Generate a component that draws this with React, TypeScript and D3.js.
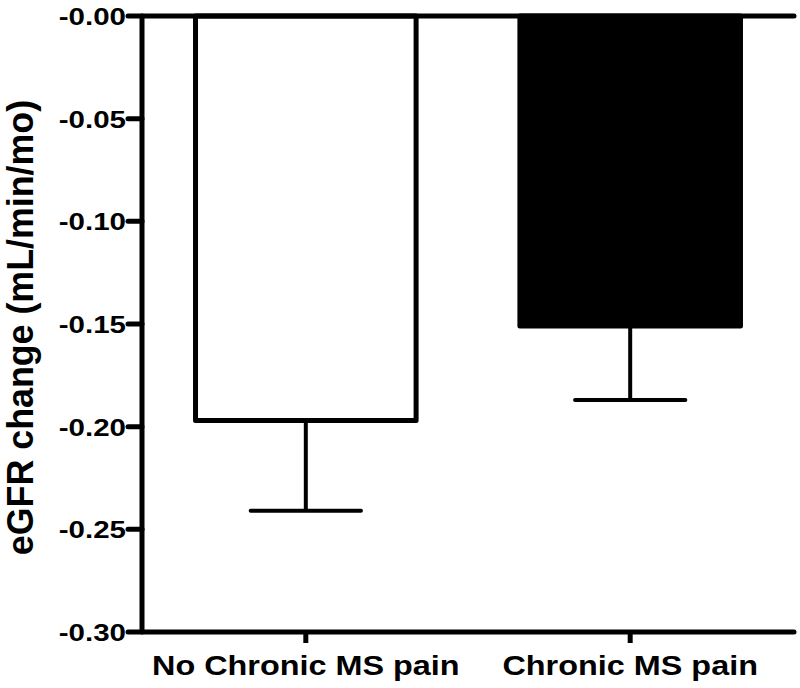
import React, { useRef, useEffect } from 'react';
import * as d3 from 'd3';

// data
const groups = ['No Chronic MS pain', 'Chronic MS pain'];
const means = [-0.197, -0.151];
const errors = [0.044, 0.036];
const fills = ['#ffffff', '#000000'];
const yTicks = [0, -0.05, -0.1, -0.15, -0.2, -0.25, -0.3];
const yTickLabels = ['-0.00', '-0.05', '-0.10', '-0.15', '-0.20', '-0.25', '-0.30'];
const yTitle = 'eGFR change (mL/min/mo)';

const FONT = '"Liberation Sans", Arial, sans-serif';

const App = () => {
  const ref = useRef<SVGSVGElement>(null);

  useEffect(() => {
    if (!ref.current) return;
    const svg = d3.select(ref.current);
    svg.selectAll('*').remove();

    const left = 142;
    const right = 794;
    const top = 16;
    const bottom = 632;

    const y = d3.scaleLinear().domain([0, -0.3]).range([top, bottom]);
    const x = d3
      .scaleBand()
      .domain(groups)
      .range([left, right])
      .paddingInner(0.32)
      .paddingOuter(0.165);

    const g = svg.append('g');

    // bars
    g.selectAll('rect.bar')
      .data(groups)
      .enter()
      .append('rect')
      .attr('class', 'bar')
      .attr('x', (d) => x(d)!)
      .attr('y', y(0))
      .attr('width', x.bandwidth())
      .attr('height', (d, i) => y(means[i]) - y(0))
      .attr('fill', (d, i) => fills[i])
      .attr('stroke', '#000')
      .attr('stroke-width', 5)
      .attr('stroke-linejoin', 'round');

    // error bars (downward only)
    const capW = x.bandwidth() / 2;
    groups.forEach((d, i) => {
      const cx = x(d)! + x.bandwidth() / 2;
      g.append('line')
        .attr('x1', cx)
        .attr('x2', cx)
        .attr('y1', y(means[i]))
        .attr('y2', y(means[i] - errors[i]))
        .attr('stroke', '#000')
        .attr('stroke-width', 4);
      g.append('line')
        .attr('x1', cx - capW / 2)
        .attr('x2', cx + capW / 2)
        .attr('y1', y(means[i] - errors[i]))
        .attr('y2', y(means[i] - errors[i]))
        .attr('stroke', '#000')
        .attr('stroke-width', 4)
        .attr('stroke-linecap', 'round');
    });

    // frame lines: top and bottom
    [0, -0.3].forEach((v) => {
      g.append('line')
        .attr('x1', left)
        .attr('x2', right)
        .attr('y1', y(v))
        .attr('y2', y(v))
        .attr('stroke', '#000')
        .attr('stroke-width', 5)
        .attr('stroke-linecap', 'round');
    });

    // y axis
    g.append('line')
      .attr('x1', left)
      .attr('x2', left)
      .attr('y1', y(0) - 2)
      .attr('y2', y(-0.3) + 2)
      .attr('stroke', '#000')
      .attr('stroke-width', 5);

    yTicks.forEach((v, i) => {
      g.append('line')
        .attr('x1', left - 14)
        .attr('x2', left)
        .attr('y1', y(v))
        .attr('y2', y(v))
        .attr('stroke', '#000')
        .attr('stroke-width', 5)
        .attr('stroke-linecap', 'round');
      g.append('text')
        .attr('transform', `translate(${left - 16},${y(v)}) scale(1,0.84)`)
        .attr('dy', '0.36em')
        .attr('text-anchor', 'end')
        .attr('font-family', FONT)
        .attr('font-weight', 'bold')
        .attr('font-size', 29.5)
        .text(yTickLabels[i]);
    });

    // x ticks and labels
    groups.forEach((d) => {
      const cx = x(d)! + x.bandwidth() / 2;
      g.append('line')
        .attr('x1', cx)
        .attr('x2', cx)
        .attr('y1', bottom)
        .attr('y2', bottom + 11)
        .attr('stroke', '#000')
        .attr('stroke-width', 5);
      g.append('text')
        .attr('transform', `translate(${cx},675) scale(1,0.88)`)
        .attr('text-anchor', 'middle')
        .attr('font-family', FONT)
        .attr('font-weight', 'bold')
        .attr('font-size', 32.4)
        .text(d);
    });

    // y title
    g.append('text')
      .attr('transform', `translate(33,${(100 + 555) / 2}) rotate(-90) scale(1,1.05)`)
      .attr('text-anchor', 'middle')
      .attr('font-family', FONT)
      .attr('font-weight', 'bold')
      .attr('font-size', 35.8)
      .text(yTitle);
  }, []);

  return (
    <svg
      ref={ref}
      width={800}
      height={688}
      style={{ position: 'absolute', left: 0, top: 0, background: '#fff' }}
    />
  );
};

export default App;
